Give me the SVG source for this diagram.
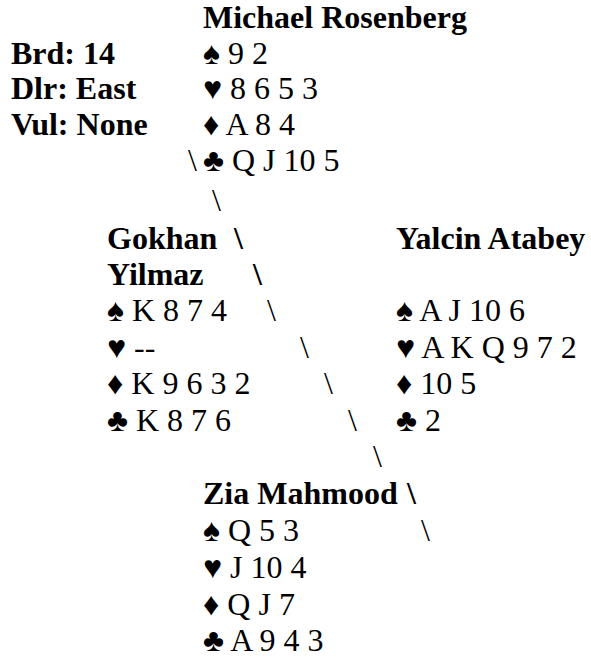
<svg xmlns="http://www.w3.org/2000/svg" width="591" height="658" viewBox="0 0 591 658">
<style>
text{font-family:"Liberation Serif","Times New Roman",serif;font-size:32px;fill:#000}
.b{font-weight:bold}
</style>
<rect width="591" height="658" fill="#fff"/>
<g id="info">
<text class="b" x="11" y="63.5">Brd: 14</text>
<text class="b" x="11" y="99">Dlr: East</text>
<text class="b" x="11" y="134.5">Vul: None</text>
</g>
<g id="north">
<text class="b" x="203" y="28">Michael Rosenberg</text>
<text x="203" y="63.5">♠ 9 2</text>
<text x="203" y="99">♥ 8 6 5 3</text>
<text x="203" y="134.5">♦ A 8 4</text>
<text x="203" y="171">♣ Q J 10 5</text>
</g>
<g id="west">
<text class="b" x="107" y="248.5">Gokhan</text>
<text class="b" x="107" y="284.5">Yilmaz</text>
<text x="107" y="321">♠ K 8 7 4</text>
<text x="107" y="357.5">♥ --</text>
<text x="107" y="394">♦ K 9 6 3 2</text>
<text x="107" y="430.6">♣ K 8 7 6</text>
</g>
<g id="east">
<text class="b" x="396" y="248.5">Yalcin Atabey</text>
<text x="396" y="321">♠ A J 10 6</text>
<text x="396" y="357.5">♥ A K Q 9 7 2</text>
<text x="396" y="394">♦ 10 5</text>
<text x="396" y="430.6">♣ 2</text>
</g>
<g id="south">
<text class="b" x="203" y="504">Zia Mahmood</text>
<text x="203" y="541">♠ Q 5 3</text>
<text x="203" y="578">♥ J 10 4</text>
<text x="203" y="614.8">♦ Q J 7</text>
<text x="203" y="651">♣ A 9 4 3</text>
</g>
<g id="connectors">
<text x="188" y="171">\</text>
<text x="212" y="211">\</text>
<text class="b" x="234" y="248.5">\</text>
<text class="b" x="253" y="284.5">\</text>
<text x="267" y="321">\</text>
<text x="300" y="357.5">\</text>
<text x="324" y="394">\</text>
<text x="348" y="430.6">\</text>
<text x="373" y="467.2">\</text>
<text class="b" x="407" y="504">\</text>
<text x="421" y="541">\</text>
</g>
</svg>
